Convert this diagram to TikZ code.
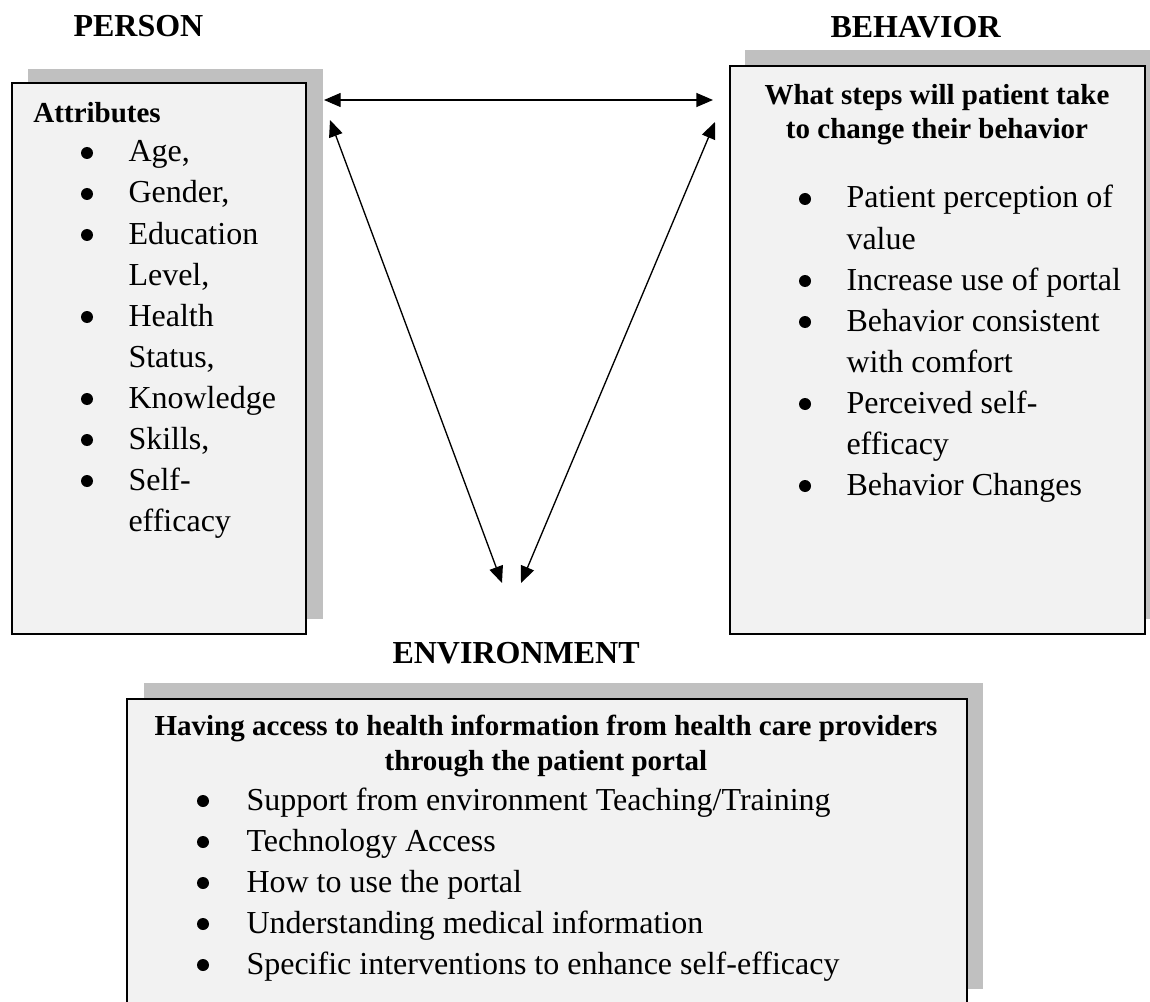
\documentclass[tikz,border=0pt]{standalone}
\usepackage{fontspec}
\setmainfont{Liberation Serif}
\usetikzlibrary{arrows.meta}
\definecolor{boxfill}{HTML}{F2F2F2}
\definecolor{shadowgray}{HTML}{C0C0C0}
\tikzset{every picture/.style={line width=0.75pt}}
\tikzset{
  panel/.style={draw=black,fill=boxfill,line width=1.2pt},
  shadowbox/.style={fill=shadowgray},
  boxtitle/.style={font=\fontsize{24}{29}\selectfont\bfseries,inner sep=0pt,anchor=base west},
  boxhead/.style={font=\fontsize{21.75}{26}\selectfont\bfseries,inner sep=0pt,anchor=base},
  itemtext/.style={font=\fontsize{24}{29}\selectfont,inner sep=0pt,anchor=base west},
  itemdot/.style={circle,fill=black,inner sep=0pt,minimum size=9pt},
  linkarrow/.style={line width=1pt,>={Triangle[length=12.5pt,width=10.5pt]},<->},
}

\begin{document}
\begin{tikzpicture}[x=0.75pt,y=0.75pt,yscale=-1,xscale=1]
		\useasboundingbox (0,0) rectangle (1150,1002);
		\clip (0,0) rectangle (1150,1002);
		
		%Shape: Shadow [person]
		\fill[shadowbox] (28,69) rectangle (323,619);
		%Shape: Rectangle [person]
		\draw[panel] (12,83) rectangle (306,634);
		
		%Shape: Shadow [behavior]
		\fill[shadowbox] (745,50) rectangle (1161,619);
		%Shape: Rectangle [behavior]
		\draw[panel] (730,66) rectangle (1145,634);
		
		%Shape: Shadow [environment]
		\fill[shadowbox] (144,683) rectangle (983,989);
		%Shape: Rectangle [environment]
		\draw[panel] (127,699) rectangle (967,1004);
		
		% Titles
		\node[boxtitle] (person) at (73,37) {PERSON};
		\node[boxtitle] (behavior) at (830,38) {BEHAVIOR};
		\node[boxtitle] (environment) at (392,663) {ENVIRONMENT};
		
		% Arrow ends
		\coordinate (pTop) at (324,100);
		\coordinate (bTop) at (713,100);
		\coordinate (pSide) at (330,120);
		\coordinate (eLeft) at (502,583);
		\coordinate (bSide) at (715,122);
		\coordinate (eRight) at (521,583);
		
		%Straight Lines [person - behavior]
		\draw[linkarrow] (pTop) -- (bTop);
		%Straight Lines [person - environment]
		\draw[linkarrow] (pSide) -- (eLeft);
		%Straight Lines [behavior - environment]
		\draw[linkarrow] (bSide) -- (eRight);
		
		% Text Node
		\node[boxhead,anchor=base west] (attr) at (33,123) {Attributes};
		% Text Node
		\node[itemdot] (pdot1) at (87,153) {};
		\node[itemtext] (age) at (128,162) {Age,};
		\node[itemdot] (pdot2) at (87,194) {};
		\node[itemtext] (gender) at (128,203) {Gender,};
		\node[itemdot] (pdot3) at (87,235) {};
		\node[itemtext] (edu) at (128,244) {Education};
		\node[itemtext] (level) at (128,285) {Level,};
		\node[itemdot] (pdot4) at (87,317) {};
		\node[itemtext] (health) at (128,326) {Health};
		\node[itemtext] (status) at (128,367) {Status,};
		\node[itemdot] (pdot5) at (87,399) {};
		\node[itemtext] (know) at (128,408) {Knowledge};
		\node[itemdot] (pdot6) at (87,440) {};
		\node[itemtext] (skills) at (128,449) {Skills,};
		\node[itemdot] (pdot7) at (87,481) {};
		\node[itemtext] (self) at (128,490) {Self-};
		\node[itemtext] (eff) at (128,531) {efficacy};
		
		% Text Node
		\node[boxhead] (steps) at (937,105) {What steps will patient take};
		\node[boxhead] (change) at (937,139) {to change their behavior};
		% Text Node
		\node[itemdot] (bdot1) at (805,199) {};
		\node[itemtext] (value) at (846,208) {Patient perception of};
		\node[itemtext] (value2) at (846,249) {value};
		\node[itemdot] (bdot2) at (805,281) {};
		\node[itemtext] (use) at (846,290) {Increase use of portal};
		\node[itemdot] (bdot3) at (805,322) {};
		\node[itemtext] (consist) at (846,331) {Behavior consistent};
		\node[itemtext] (comfort) at (846,372) {with comfort};
		\node[itemdot] (bdot4) at (805,404) {};
		\node[itemtext] (perc) at (846,413) {Perceived self-};
		\node[itemtext] (perc2) at (846,454) {efficacy};
		\node[itemdot] (bdot5) at (805,486) {};
		\node[itemtext] (changes) at (846,495) {Behavior Changes};
		
		% Text Node
		\node[boxhead] (access) at (546,735) {Having access to health information from health care providers};
		\node[boxhead] (through) at (546,770) {through the patient portal};
		% Text Node
		\node[itemdot] (edot1) at (203,801) {};
		\node[itemtext] (support) at (246,810) {Support from environment Teaching/Training};
		\node[itemdot] (edot2) at (203,842) {};
		\node[itemtext] (tech) at (246,851) {Technology Access};
		\node[itemdot] (edot3) at (203,883) {};
		\node[itemtext] (howto) at (246,892) {How to use the portal};
		\node[itemdot] (edot4) at (203,924) {};
		\node[itemtext] (medical) at (246,933) {Understanding medical information};
		\node[itemdot] (edot5) at (203,965) {};
		\node[itemtext] (specific) at (246,974) {Specific interventions to enhance self-efficacy};
		
\end{tikzpicture}
\end{document}
